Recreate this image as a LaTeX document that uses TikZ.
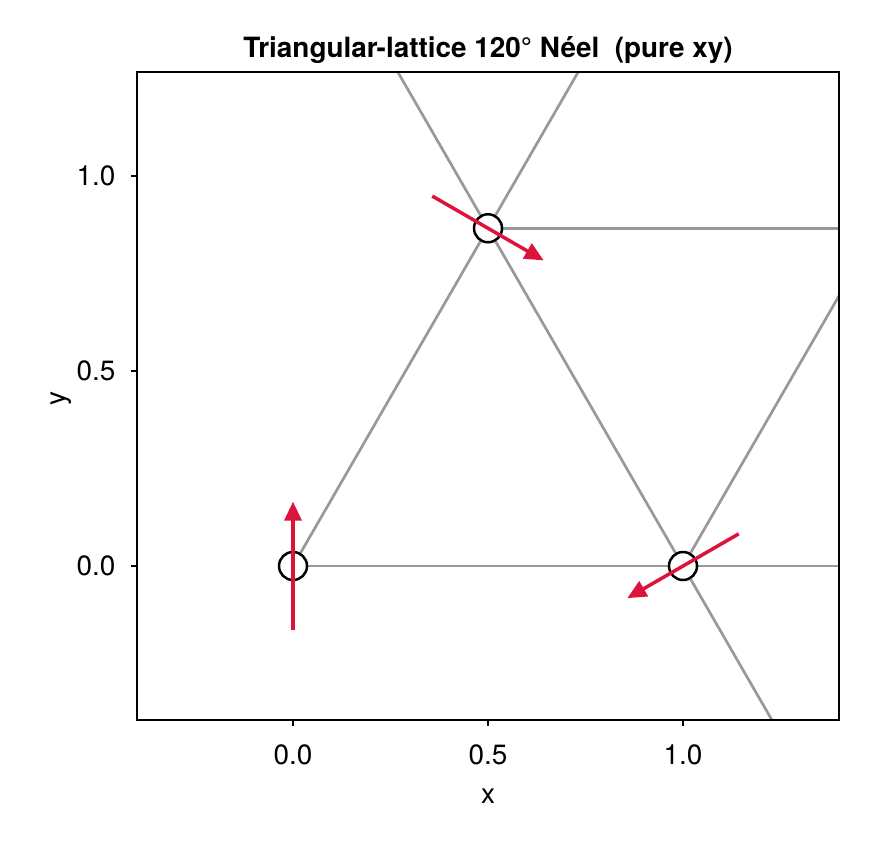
\documentclass[tikz,border=0pt]{standalone}
\usepackage{fontspec}
\setmainfont{TeX Gyre Heros}
\usetikzlibrary{calc,arrows.meta}
\definecolor{spinred}{RGB}{220,20,60}
\definecolor{bondgray}{RGB}{153,153,153}

\begin{document}
\begin{tikzpicture}[x=390bp,y=390bp,every node/.style={font=\fontsize{28}{32}\selectfont},
  bond/.style={draw=bondgray,line width=2.7bp},
  site/.style={circle,draw=black,fill=white,line width=2.5bp,minimum size=28bp,inner sep=0pt},
  spin/.style={draw=spinred,line width=3.5bp,-{Triangle[length=19bp,width=17bp]}},
  tck/.style={line width=2bp},
  lbl/.style={inner sep=0pt}]
  \useasboundingbox (-0.7513,-0.7026) rectangle (1.5051,1.4513);
  \coordinate (a) at (0,0);
  \coordinate (b) at (1,0);
  \coordinate (c) at (0.5,0.8660);
  \begin{scope}
    \clip (-0.4,-0.395) rectangle (1.4,1.2667);
    \draw[bond] (a) -- (1.4,0);
    \draw[bond] (c) -- (1.4,0.8660);
    \draw[bond] (a) -- (0.7309,1.266);
    \draw[bond] (b) -- (0.2691,1.266);
    \draw[bond] (b) -- (1.2309,-0.4);
    \draw[bond] (b) -- (1.4,0.6928);
  \end{scope}
  \node[site] (sa) at (a) {};
  \node[site] (sb) at (b) {};
  \node[site] (sc) at (c) {};
  \coordinate (ta) at ($(a)+(270:0.165)$); \coordinate (ha) at ($(a)+(90:0.165)$);
  \coordinate (tb) at ($(b)+(30:0.165)$);  \coordinate (hb) at ($(b)+(210:0.165)$);
  \coordinate (tc) at ($(c)+(150:0.165)$); \coordinate (hc) at ($(c)+(-30:0.165)$);
  \draw[spin] (ta) -- (ha);
  \draw[spin] (tb) -- (hb);
  \draw[spin] (tc) -- (hc);
  \draw[line width=2bp] (-0.4,-0.395) rectangle (1.4,1.2667);
  \foreach \v in {0.0,0.5,1.0} {
    \draw[tck] (\v,-0.395) -- (\v,-0.411);
    \node[lbl,anchor=base] at (\v,-0.510) {\v};
    \draw[tck] (-0.4,\v) -- (-0.416,\v);
    \node[lbl,anchor=east] at (-0.455,\v) {\v};
  }
  \node[lbl,anchor=base] (xl) at (0.5,-0.608) {x};
  \node[lbl,rotate=90] (yl) at (-0.595,0.43) {y};
  \node[lbl,anchor=base,font=\fontsize{28}{32}\selectfont\bfseries] (title) at (0.5,1.305) {Triangular-lattice 120° Néel\ \ (pure xy)};
\end{tikzpicture}
\end{document}
